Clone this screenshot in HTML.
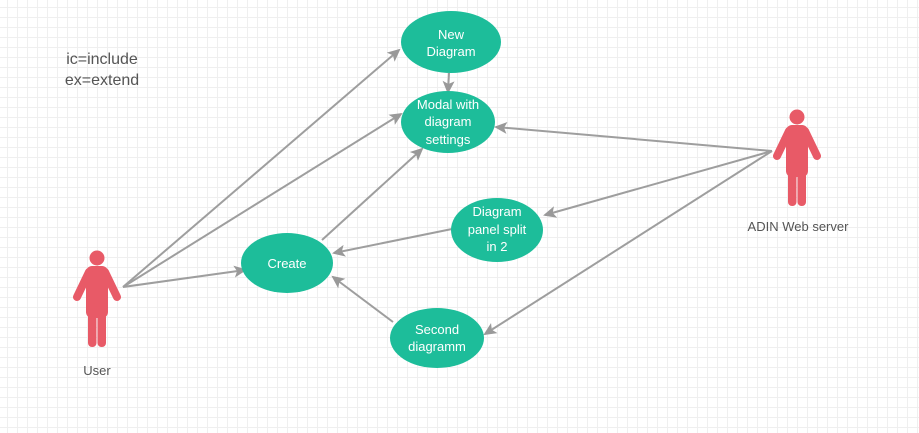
<!DOCTYPE html>
<html><head><style>
body{margin:0;width:919px;height:433px;overflow:hidden;background:#fff;
background-image:linear-gradient(#efefef 1px,transparent 1px),linear-gradient(90deg,#efefef 1px,transparent 1px);background-size:10px 10px;background-position:-3px -3px;}
svg{position:absolute;left:0;top:0}
text{font-family:"Liberation Sans",sans-serif;}
</style></head><body>
<svg width="919" height="433" viewBox="0 0 919 433">
<defs>
<marker id="a" markerWidth="14" markerHeight="14" refX="11" refY="7" orient="auto" markerUnits="userSpaceOnUse" viewBox="0 0 14 14">
<path d="M0,1 L13,7 L0,13 L3,7 Z" fill="#999"/></marker>
<g id="actor" fill="#e85a67">
<circle cx="0" cy="0" r="7.5"/>
<rect x="-11" y="8" width="22" height="52" rx="6"/>
<line x1="-8" y1="14" x2="-20" y2="39" stroke="#e85a67" stroke-width="8" stroke-linecap="round"/>
<line x1="8" y1="14" x2="20" y2="39" stroke="#e85a67" stroke-width="8" stroke-linecap="round"/>
<rect x="-9" y="45" width="8.5" height="44" rx="4"/>
<rect x="0.5" y="45" width="8.5" height="44" rx="4"/>
</g>
</defs>
<g stroke="#9e9e9e" stroke-width="2" fill="none" marker-end="url(#a)">
<line x1="123" y1="287" x2="399" y2="50"/>
<line x1="123" y1="287" x2="401" y2="114"/>
<line x1="123" y1="287" x2="245" y2="270"/>
<line x1="322" y1="240" x2="422" y2="149"/>
<line x1="449" y1="73" x2="448" y2="92"/>
<line x1="772" y1="151" x2="496" y2="127"/>
<line x1="772" y1="151" x2="545" y2="215"/>
<line x1="772" y1="151" x2="485" y2="334"/>
<line x1="452" y1="229" x2="334" y2="253"/>
<line x1="393" y1="322" x2="333" y2="277"/>
</g>
<g fill="#1dbd9a">
<ellipse cx="451" cy="42" rx="50" ry="31"/>
<ellipse cx="448" cy="122" rx="47" ry="31"/>
<ellipse cx="497" cy="230" rx="46" ry="32"/>
<ellipse cx="287" cy="263" rx="46" ry="30"/>
<ellipse cx="437" cy="338" rx="47" ry="30"/>
</g>
<g fill="#fff" font-size="13" text-anchor="middle">
<text x="451" y="39">New</text><text x="451" y="56">Diagram</text>
<text x="448" y="109">Modal with</text><text x="448" y="126">diagram</text><text x="448" y="144">settings</text>
<text x="497" y="216">Diagram</text><text x="497" y="234">panel split</text><text x="497" y="251">in 2</text>
<text x="287" y="268">Create</text>
<text x="437" y="334">Second</text><text x="437" y="351">diagramm</text>
</g>
<use href="#actor" x="97" y="258"/>
<use href="#actor" x="797" y="117"/>
<g fill="#555" text-anchor="middle">
<text x="97" y="375" font-size="13">User</text>
<text x="798" y="231" font-size="13">ADIN Web server</text>
<text x="102" y="64" font-size="16">ic=include</text>
<text x="102" y="85" font-size="16">ex=extend</text>
</g>
</svg>
</body></html>
